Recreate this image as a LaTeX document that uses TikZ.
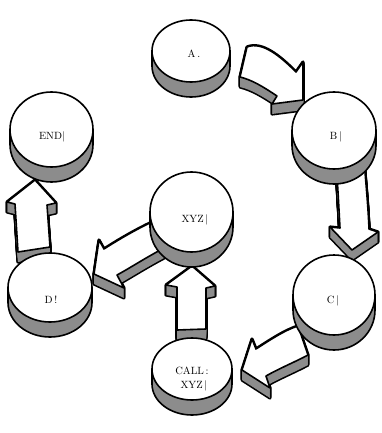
\documentclass[tikz,border=0pt]{standalone}
\usetikzlibrary{shapes.geometric}
\tikzset{
  outline/.style={line width=1.6pt, line join=round, line cap=round},
  sidefill/.style={fill=black!45},
  arrowsil/.style={draw=black, line width=3.2pt, line join=round},
  arrowface/.style={outline, draw=black, fill=white},
  discface/.style={ellipse, draw=black, fill=white, line width=1.6pt, inner sep=0pt},
  disclabel/.style={font=\fontsize{10.5}{12}\selectfont, inner sep=0pt},
}
% A flat block arrow extruded downwards: silhouette, shaded side, white top face
\newcommand\blockarrow[1]{%
  \foreach \k in {0,...,10}{\draw[arrowsil, shift={(0,\k)}] #1 -- cycle;}%
  \foreach \k in {0,...,10}{\fill[sidefill, shift={(0,\k)}] #1 -- cycle;}%
  \draw[arrowface] #1 -- cycle;}
% A disc: name, centre x, centre y, x radius, y radius
\newcommand\disc[5]{%
  \filldraw[sidefill, outline] ({#2-#4},#3) -- ({#2-#4},{#3+15})
    arc[start angle=180, end angle=360, x radius=#4pt, y radius=#5pt]
    -- ({#2+#4},#3) -- cycle;
  \node[discface, minimum width={2*#4pt}, minimum height={2*#5pt}] (#1) at (#2,#3) {};}
\begin{document}
\begin{tikzpicture}[x=1pt, y=-1pt]
\useasboundingbox (0,0) rectangle (381,433);

% arrows (drawn first, so their tails pass under the discs)
\blockarrow{(247,47) .. controls (262,41) and (280,56) .. (296,72) -- (303,62) -- (303,100) -- (272,104) -- (277,96) .. controls (262,86) and (252,80) .. (240,77)}
\blockarrow{(336,160) .. controls (338,190) and (339,210) .. (340,228) -- (330,227) -- (352,250) -- (378,232) -- (369,229) .. controls (368,205) and (366,185) .. (364,160)}
\blockarrow{(298,326) .. controls (285,330) and (270,340) .. (256,349) -- (252,339) -- (242,370) -- (270,388) -- (266,376) .. controls (280,368) and (295,362) .. (308,355)}
\blockarrow{(152,222) .. controls (135,230) and (118,240) .. (104,249) -- (99,240) -- (94,274) -- (124,288) -- (117,275) .. controls (130,268) and (145,258) .. (166,247)}
\blockarrow{(18,252) -- (15,204) -- (7,202) -- (35,180) -- (56,203) -- (47,205) -- (50,247)}
\blockarrow{(177,330) -- (177,287) -- (166,285) -- (192,266) -- (215,286) -- (206,288) -- (206,329)}

% discs
\disc{A}{191}{51}{39}{31}
\disc{B}{334}{130.5}{42}{38.5}
\disc{C}{334}{295}{41}{40}
\disc{call}{192}{369}{40}{31}
\disc{D}{50}{287.5}{42}{34.5}
\disc{end}{51.5}{129.5}{41.5}{37.5}
\disc{xyz}{191.5}{212}{41.5}{40}

% labels
\node[disclabel] (A-text) at (194,54) {A\,.};
\node[disclabel] (B-text) at (336,137) {B\,\textbar};
\node[disclabel] (C-text) at (333,301) {C\,\textbar};
\node[disclabel] (end-text) at (52,137) {END\textbar};
\node[disclabel] (xyz-text) at (195,220) {XYZ\,\textbar};
\node[disclabel] (D-text) at (51,300) {D\,!};
\node[disclabel] (call-text) at (192,371) {CALL\,:};
\node[disclabel] (call-text2) at (194,386) {XYZ\,\textbar};
\end{tikzpicture}
\end{document}
